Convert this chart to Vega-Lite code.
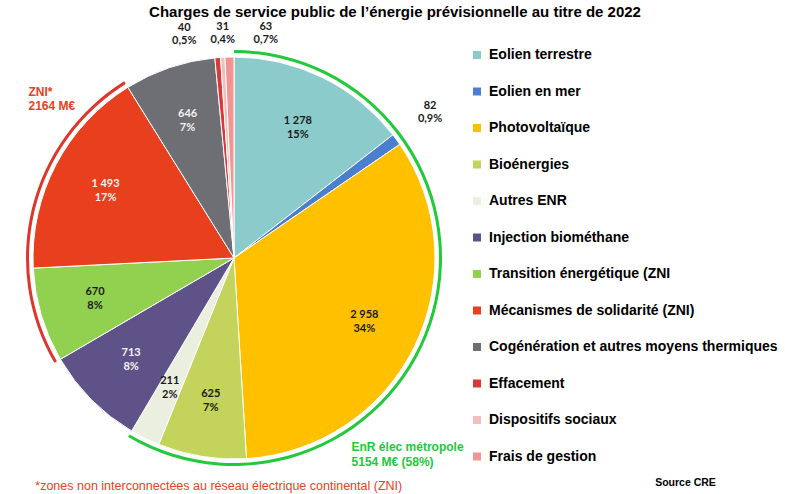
{
  "$schema": "https://vega.github.io/schema/vega-lite/v6.json",
  "width": 468,
  "height": 456,
  "autosize": {"type": "none"},
  "padding": {"left": 0, "top": 30, "right": 317, "bottom": 8},
  "background": "white",
  "title": {
    "text": "Charges de service public de l’énergie prévisionnelle au titre de 2022",
    "font": "Liberation Sans",
    "fontSize": 15,
    "fontWeight": "bold",
    "color": "#000000",
    "anchor": "middle",
    "frame": "group",
    "dx": 161,
    "offset": 1
  },
  "datasets": {
    "postes": [
      {"ordre": 1, "nom": "Eolien terrestre", "valeur": 1278, "etiquette": "1 278\n15%"},
      {"ordre": 2, "nom": "Eolien en mer", "valeur": 82, "etiquette": "82\n0,9%"},
      {"ordre": 3, "nom": "Photovoltaïque", "valeur": 2958, "etiquette": "2 958\n34%"},
      {"ordre": 4, "nom": "Bioénergies", "valeur": 625, "etiquette": "625\n7%"},
      {"ordre": 5, "nom": "Autres ENR", "valeur": 211, "etiquette": "211\n2%"},
      {"ordre": 6, "nom": "Injection biométhane", "valeur": 713, "etiquette": "713\n8%"},
      {"ordre": 7, "nom": "Transition énergétique (ZNI", "valeur": 670, "etiquette": "670\n8%"},
      {"ordre": 8, "nom": "Mécanismes de solidarité (ZNI)", "valeur": 1493, "etiquette": "1 493\n17%"},
      {"ordre": 9, "nom": "Cogénération et autres moyens thermiques", "valeur": 646, "etiquette": "646\n7%"},
      {"ordre": 10, "nom": "Effacement", "valeur": 40, "etiquette": "40\n0,5%"},
      {"ordre": 11, "nom": "Dispositifs sociaux", "valeur": 31, "etiquette": "31\n0,4%"},
      {"ordre": 12, "nom": "Frais de gestion", "valeur": 63, "etiquette": "63\n0,7%"}
    ],
    "groupes": [
      {"ordre": 1, "groupe": "EnR", "valeur": 5154, "libelle": "EnR élec métropole\n5154 M€ (58%)"},
      {"ordre": 2, "groupe": "Injection", "valeur": 713, "libelle": ""},
      {"ordre": 3, "groupe": "ZNI", "valeur": 2163, "libelle": "ZNI*\n2164 M€"},
      {"ordre": 4, "groupe": "Autres", "valeur": 780, "libelle": ""}
    ]
  },
  "layer": [
    {
      "data": {"name": "postes"},
      "mark": {"type": "arc", "outerRadius": 201, "stroke": "#ffffff", "strokeWidth": 1},
      "encoding": {
        "theta": {"field": "valeur", "type": "quantitative", "stack": true},
        "order": {"field": "ordre", "type": "quantitative"},
        "color": {
          "field": "nom",
          "type": "nominal",
          "scale": {
            "domain": ["Eolien terrestre", "Eolien en mer", "Photovoltaïque", "Bioénergies", "Autres ENR", "Injection biométhane", "Transition énergétique (ZNI", "Mécanismes de solidarité (ZNI)", "Cogénération et autres moyens thermiques", "Effacement", "Dispositifs sociaux", "Frais de gestion"],
            "range": ["#8CCBCB", "#4A7ECF", "#FFC000", "#C4D35B", "#EAEFE0", "#5F5288", "#92D050", "#E8401F", "#6E6E75", "#D9393A", "#F6BDBD", "#F29490"]
          },
          "legend": {
            "orient": "none",
            "legendX": 470,
            "legendY": 18,
            "title": null,
            "padding": 0,
            "symbolType": "square",
            "symbolSize": 64,
            "symbolStrokeWidth": 0,
            "labelFont": "Liberation Sans",
            "labelFontSize": 14,
            "labelFontWeight": "bold",
            "labelColor": "#000000",
            "labelOffset": 5,
            "labelLimit": 400,
            "rowPadding": 22.5
          }
        }
      }
    },
    {
      "data": {"name": "groupes"},
      "mark": {"type": "arc", "innerRadius": 205, "outerRadius": 208},
      "encoding": {
        "theta": {"field": "valeur", "type": "quantitative", "stack": true},
        "order": {"field": "ordre", "type": "quantitative"},
        "fill": {
          "condition": [
            {"test": "datum.groupe === 'EnR'", "value": "#22C93A"},
            {"test": "datum.groupe === 'ZNI'", "value": "#E0352B"}
          ],
          "value": "transparent"
        }
      }
    },
    {
      "data": {"name": "postes"},
      "mark": {"type": "text", "radius": 145, "dy": -7, "font": "Lato", "fontSize": 11, "fontWeight": "bold", "lineBreak": "\n", "lineHeight": 14, "baseline": "middle", "align": "center"},
      "encoding": {
        "theta": {"field": "valeur", "type": "quantitative", "stack": true},
        "order": {"field": "ordre", "type": "quantitative"},
        "text": {"condition": {"test": "datum.ordre !== 2 && datum.ordre < 10", "field": "etiquette"}, "value": ""},
        "color": {"condition": {"test": "datum.ordre === 6 || datum.ordre === 8 || datum.ordre === 9", "value": "#F2F2F2"}, "value": "#1A1A1A"}
      }
    },
    {
      "data": {"name": "postes"},
      "transform": [
        {"stack": "valeur", "groupby": [], "sort": [{"field": "ordre", "order": "ascending"}], "as": ["debut", "fin"]},
        {"filter": "datum.ordre === 2"}
      ],
      "mark": {"type": "text", "radius": 243, "dx": 4, "dy": -3, "font": "Lato", "fontSize": 11, "fontWeight": "bold", "lineBreak": "\n", "lineHeight": 13, "baseline": "middle", "align": "center", "color": "#1A1A1A"},
      "encoding": {
        "theta": {"field": "debut", "type": "quantitative"},
        "text": {"field": "etiquette"}
      }
    },
    {
      "data": {"name": "postes"},
      "transform": [
        {"stack": "valeur", "groupby": [], "sort": [{"field": "ordre", "order": "ascending"}], "as": ["debut", "fin"]},
        {"filter": "datum.ordre === 10"}
      ],
      "mark": {"type": "text", "radius": 228, "dx": -28, "dy": -3, "font": "Lato", "fontSize": 11, "fontWeight": "bold", "lineBreak": "\n", "lineHeight": 13, "baseline": "middle", "align": "center", "color": "#1A1A1A"},
      "encoding": {
        "theta": {"field": "debut", "type": "quantitative"},
        "text": {"field": "etiquette"}
      }
    },
    {
      "data": {"name": "postes"},
      "transform": [
        {"stack": "valeur", "groupby": [], "sort": [{"field": "ordre", "order": "ascending"}], "as": ["debut", "fin"]},
        {"filter": "datum.ordre === 11"}
      ],
      "mark": {"type": "text", "radius": 228, "dx": 4, "dy": -4, "font": "Lato", "fontSize": 11, "fontWeight": "bold", "lineBreak": "\n", "lineHeight": 13, "baseline": "middle", "align": "center", "color": "#1A1A1A"},
      "encoding": {
        "theta": {"field": "debut", "type": "quantitative"},
        "text": {"field": "etiquette"}
      }
    },
    {
      "data": {"name": "postes"},
      "transform": [
        {"stack": "valeur", "groupby": [], "sort": [{"field": "ordre", "order": "ascending"}], "as": ["debut", "fin"]},
        {"filter": "datum.ordre === 12"}
      ],
      "mark": {"type": "text", "radius": 228, "dx": 42, "dy": -3, "font": "Lato", "fontSize": 11, "fontWeight": "bold", "lineBreak": "\n", "lineHeight": 13, "baseline": "middle", "align": "center", "color": "#1A1A1A"},
      "encoding": {
        "theta": {"field": "debut", "type": "quantitative"},
        "text": {"field": "etiquette"}
      }
    },
    {
      "data": {"name": "groupes"},
      "transform": [
        {"stack": "valeur", "groupby": [], "sort": [{"field": "ordre", "order": "ascending"}], "as": ["debut", "fin"]},
        {"filter": "datum.groupe === 'ZNI'"}
      ],
      "mark": {"type": "text", "radius": 215, "dx": -92, "dy": 17, "font": "Liberation Sans", "fontSize": 12, "fontWeight": "bold", "lineBreak": "\n", "lineHeight": 14, "baseline": "middle", "align": "left", "color": "#E8401F"},
      "encoding": {
        "theta": {"field": "fin", "type": "quantitative"},
        "text": {"field": "libelle"}
      }
    },
    {
      "data": {"name": "groupes"},
      "transform": [
        {"stack": "valeur", "groupby": [], "sort": [{"field": "ordre", "order": "ascending"}], "as": ["debut", "fin"]},
        {"filter": "datum.groupe === 'EnR'"}
      ],
      "mark": {"type": "text", "radius": 215, "dx": 227, "dy": 4, "font": "Liberation Sans", "fontSize": 12, "fontWeight": "bold", "lineBreak": "\n", "lineHeight": 15, "baseline": "middle", "align": "left", "color": "#1EC83A"},
      "encoding": {
        "theta": {"field": "fin", "type": "quantitative"},
        "text": {"field": "libelle"}
      }
    },
    {
      "data": {"name": "groupes"},
      "transform": [
        {"stack": "valeur", "groupby": [], "sort": [{"field": "ordre", "order": "ascending"}], "as": ["debut", "fin"]},
        {"filter": "datum.groupe === 'ZNI'"}
      ],
      "mark": {"type": "text", "radius": 215, "dx": -13, "dy": 120, "font": "Liberation Sans", "fontSize": 12.5, "baseline": "middle", "align": "left", "color": "#E8401F", "text": "*zones non interconnectées au réseau électrique continental (ZNI)"},
      "encoding": {
        "theta": {"field": "debut", "type": "quantitative"}
      }
    },
    {
      "data": {"name": "groupes"},
      "transform": [
        {"stack": "valeur", "groupby": [], "sort": [{"field": "ordre", "order": "ascending"}], "as": ["debut", "fin"]},
        {"filter": "datum.groupe === 'EnR'"}
      ],
      "mark": {"type": "text", "radius": 215, "dx": 561, "dy": 40, "font": "Liberation Sans", "fontSize": 10.5, "fontWeight": "bold", "baseline": "middle", "align": "center", "color": "#000000", "text": "Source CRE"},
      "encoding": {
        "theta": {"field": "fin", "type": "quantitative"}
      }
    }
  ],
  "config": {"view": {"stroke": null}}
}
